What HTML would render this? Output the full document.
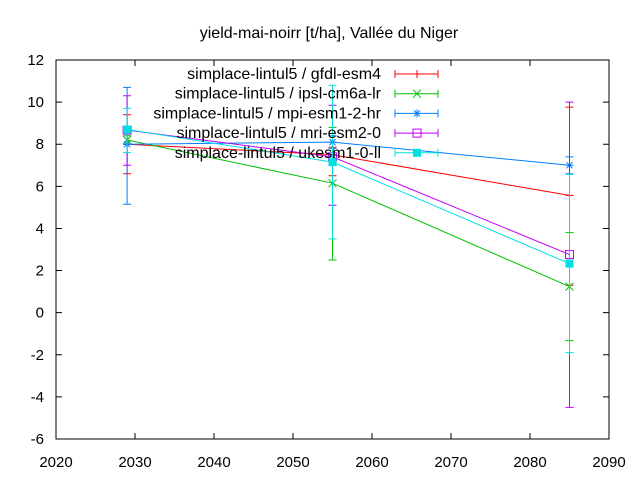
<!DOCTYPE html>
<html><head><meta charset="utf-8"><style>body{margin:0;background:#fff}svg{display:block;font-family:"Liberation Sans",sans-serif}</style></head>
<body>
<svg id="chart" width="640" height="480" xmlns="http://www.w3.org/2000/svg">
<text x="329" y="38" text-anchor="middle" font-size="16">yield-mai-noirr [t/ha], Vallée du Niger</text>
<rect x="56" y="60" width="553" height="379" fill="none" stroke="#000"/>
<g id="axes"></g><g id="series"></g><g id="legend"></g>
</svg>
<script>
const years = [2029, 2055, 2085];
const seriesNames = ["simplace-lintul5 / gfdl-esm4","simplace-lintul5 / ipsl-cm6a-lr","simplace-lintul5 / mpi-esm1-2-hr","simplace-lintul5 / mri-esm2-0","simplace-lintul5 / ukesm1-0-ll"];
const gfdlVals = [8.0, 7.5, 5.57];
const gfdlLo = [6.6, 6.5, 1.3];
const gfdlHi = [9.4, 7.86, 9.76];
const ipslVals = [8.2, 6.15, 1.24];
const ipslLo = [8.0, 2.5, -1.33];
const ipslHi = [8.4, 8.8, 3.8];
const mpiVals = [8.0, 8.1, 7.0];
const mpiLo = [5.15, 7.8, 6.6];
const mpiHi = [10.7, 8.4, 7.4];
const mriVals = [8.67, 7.4, 2.76];
const mriLo = [7.0, 5.1, -4.5];
const mriHi = [10.3, 9.85, 10.0];
const ukVals = [8.7, 7.15, 2.33];
const ukLo = [7.6, 3.5, -1.9];
const ukHi = [9.7, 10.8, 6.57];
const xTicks = [2020,2030,2040,2050,2060,2070,2080,2090];
const yTicks = [-6,-4,-2,0,2,4,6,8,10,12];
const NS="http://www.w3.org/2000/svg";
const X=v=>56+(v-2020)*553/70, Y=v=>439-(v+6)*379/18;
function mk(t,a,p){const e=document.createElementNS(NS,t);for(const k in a)e.setAttribute(k,a[k]);p.appendChild(e);return e;}
const ax=document.getElementById('axes');
xTicks.forEach(t=>{const x=X(t);
 const l=mk('path',{d:`M${x},439v-6M${x},60v6`,stroke:'#000'},ax);
 
 
 const tx=mk('text',{x:x,y:467,'text-anchor':'middle','font-size':15},ax);tx.textContent=t;
 
 });
yTicks.forEach(t=>{const y=Y(t);
 const l=mk('path',{d:`M56,${y}h6M609,${y}h-6`,stroke:'#000'},ax);
 
 
 const tx=mk('text',{x:44,y:y+5,'text-anchor':'end','font-size':15},ax);tx.textContent=t;
 
 });
const colors=['#ff0000','#00c000','#0080ff','#c000ff','#00e0e0'];
const data=[[gfdlVals,gfdlLo,gfdlHi],[ipslVals,ipslLo,ipslHi],[mpiVals,mpiLo,mpiHi],[mriVals,mriLo,mriHi],[ukVals,ukLo,ukHi]];
function sym(i,x,y,g){const c=colors[i];
 if(i==0)mk('path',{d:`M${x-4},${y}h8M${x},${y-4}v8`,stroke:c},g);
 if(i==1)mk('path',{d:`M${x-4},${y-4}l8,8M${x-4},${y+4}l8,-8`,stroke:c},g);
 if(i==2)mk('path',{d:`M${x-4},${y}h8M${x},${y-4}v8M${x-3},${y-3}l6,6M${x-3},${y+3}l6,-6`,stroke:c},g);
 if(i==3)mk('rect',{x:x-4,y:y-4,width:8,height:8,fill:'none',stroke:c},g);
 if(i==4)mk('rect',{x:x-4,y:y-4,width:8,height:8,fill:c},g);}
const sg=document.getElementById('series');
data.forEach((d,i)=>{const g=mk('g',{},sg);
 
 
 const c=colors[i];
 mk('polyline',{points:years.map((y,j)=>X(y)+','+Y(d[0][j])).join(' '),fill:'none',stroke:c},g);
 years.forEach((yr,j)=>{const x=X(yr);
  const e=mk('path',{d:`M${x},${Y(d[1][j])}V${Y(d[2][j])}M${x-4},${Y(d[1][j])}h8M${x-4},${Y(d[2][j])}h8`,stroke:c},g);
  
  
  sym(i,x,Y(d[0][j]),g);});});
const lg=document.getElementById('legend');
seriesNames.forEach((n,i)=>{const y=74+i*19.7;const g=mk('g',{},lg);
 
 
 const t=mk('text',{x:381,y:y+5,'text-anchor':'end','font-size':16},g);t.textContent=n;
 mk('path',{d:`M395,${y}h43M395,${y-4}v8M438,${y-4}v8`,stroke:colors[i]},g);
 sym(i,417,y,g);});
</script>
</body></html>
